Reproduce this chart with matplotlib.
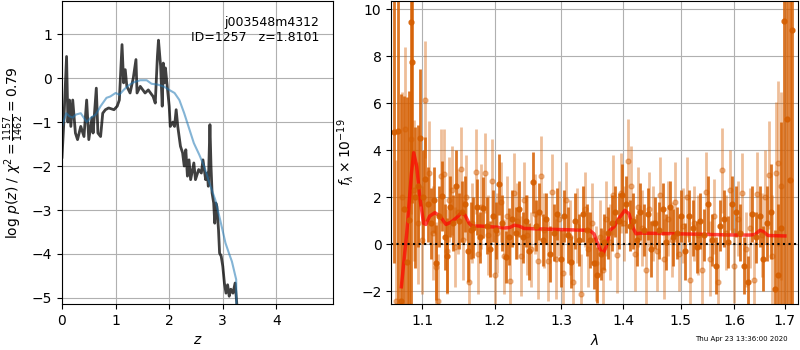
#!/usr/bin/env python3
# p(z) panel + spectrum panel (grism fit summary)
import numpy as np
import matplotlib
matplotlib.use("Agg")
import matplotlib.pyplot as plt
from matplotlib.ticker import FormatStrFormatter, NullLocator, NullFormatter

# --- left panel: log p(z) ---
z_pz = [0.0, 0.03, 0.085, 0.11, 0.14, 0.165, 0.2, 0.25, 0.29, 0.35, 0.41, 0.46, 0.5,
        0.56, 0.58, 0.64, 0.67, 0.72, 0.76, 0.81, 0.87, 0.97, 1.03, 1.07, 1.12, 1.15,
        1.18, 1.21, 1.27, 1.33, 1.38, 1.40, 1.46, 1.55, 1.61, 1.70, 1.74, 1.78, 1.80,
        1.84, 1.87, 1.89, 1.91, 1.93, 1.97, 2.0, 2.02, 2.07, 2.1, 2.13, 2.16, 2.21, 2.25,
        2.28, 2.31, 2.34, 2.37, 2.40, 2.46, 2.49, 2.55, 2.60, 2.63, 2.68, 2.71, 2.73,
        2.76, 2.78, 2.80, 2.83, 2.85, 2.87, 2.89, 2.92, 2.94, 2.97, 3.00, 3.03, 3.06,
        3.09, 3.12, 3.15, 3.19, 3.23, 3.26, 3.28]
lnp_pz = [-1.8, -1.1, 0.49, -1.0, -0.5, -1.1, -0.5, -1.25, -1.4, -1.1, -1.33, -0.5, -1.4,
          -0.9, -1.25, -0.23, -1.25, -1.33, -0.8, -0.72, -0.68, -0.72, -0.64, -0.5, 0.76,
          -0.11, 0.19, -0.19, -0.34, 0.0, 0.42, -0.34, -0.19, -0.34, -0.27, -0.42, -0.57,
          0.49, 0.86, 0.27, -0.64, 0.34, -0.11, 0.23, -0.27, -0.64, -1.1, -1.0, -1.1,
          -0.72, -1.1, -1.55, -1.7, -2.0, -1.63, -2.23, -1.86, -2.31, -1.93, -2.31, -2.08,
          -2.16, -1.86, -2.31, -2.16, -2.46, -1.06, -2.0, -2.61, -2.84, -3.3, -2.84,
          -2.92, -3.45, -3.98, -4.05, -4.28, -4.66, -4.89, -4.7, -4.96, -4.8, -4.89,
          -4.66, -5.11, -5.6]

z_tmpl = [0.0, 0.08, 0.14, 0.2, 0.26, 0.35, 0.46, 0.54, 0.63, 0.72, 0.83, 0.9, 1.0, 1.07,
          1.15, 1.24, 1.33, 1.46, 1.58, 1.67, 1.79, 1.91, 2.0, 2.1, 2.19, 2.28, 2.37,
          2.46, 2.56, 2.65, 2.77, 2.86, 2.95, 3.05, 3.12, 3.17, 3.25, 3.26]
lnp_tmpl = [-1.1, -0.8, -0.87, -0.9, -0.83, -0.8, -1.0, -0.9, -0.83, -0.64, -0.45, -0.42,
            -0.34, -0.38, -0.27, -0.17, -0.1, -0.05, -0.05, -0.13, -0.15, -0.2, -0.27,
            -0.34, -0.5, -0.8, -1.14, -1.48, -1.74, -2.0, -2.46, -2.77, -3.22, -3.75,
            -4.0, -4.17, -4.58, -5.6]

# --- right panel: spectrum ---
wave_a = [1.063, 1.069, 1.072, 1.076, 1.080, 1.083, 1.0857, 1.087, 1.091, 1.094, 1.097,
          1.101, 1.104, 1.108, 1.112, 1.116, 1.119, 1.123, 1.127, 1.131, 1.134, 1.138,
          1.142, 1.146, 1.150, 1.154, 1.158, 1.162, 1.166, 1.170, 1.175, 1.179, 1.184,
          1.189, 1.193, 1.198, 1.202, 1.206, 1.211, 1.216, 1.221, 1.226, 1.231, 1.236,
          1.241, 1.246, 1.251, 1.256, 1.261, 1.266, 1.272, 1.277, 1.283, 1.288, 1.293,
          1.299, 1.304, 1.310, 1.316, 1.322, 1.328, 1.334, 1.340, 1.346, 1.352, 1.357,
          1.363, 1.369, 1.375, 1.381, 1.387, 1.393, 1.399, 1.405, 1.411, 1.417, 1.423,
          1.429, 1.436, 1.442, 1.448, 1.455, 1.461, 1.468, 1.474, 1.481, 1.487, 1.494,
          1.501, 1.508, 1.515, 1.522, 1.529, 1.536, 1.543, 1.551, 1.558, 1.565, 1.573,
          1.580, 1.588, 1.595, 1.603, 1.611, 1.618, 1.626, 1.634, 1.642, 1.650, 1.656,
          1.664, 1.672, 1.679, 1.686, 1.693, 1.699, 1.705, 1.710, 1.715]
flux_a = [4.8, 4.82, -2.4, 1.5, -0.74, 1.03, 9.47, 7.76, 2.0, 2.5, 4.54,
          2.0, 2.78, 1.71, 0.9, 1.9, -0.77, 1.2, 2.05, 0.3, -0.48, 1.6,
          0.9, 2.5, 1.0, 1.4, 1.73, -0.3, 0.6, 0.71, 1.6, 0.3, 1.56,
          0.8, -0.2, 1.2, 0.6, 2.55, 0.9, -0.54, 0.33, 1.1, 0.5, 1.5,
          0.3, 1.0, -0.3, 2.65, 0.8, 1.4, 0.2, 1.1, -0.4, 0.5, 1.3,
          -0.6, 1.2, 0.4, -0.74, 1.0, 0.2, 1.3, 0.6, 0.2, -0.8, -1.3,
          -0.4, 0.1, 0.5, 0.9, 1.4, 1.0, 2.1, 1.7, 0.8, 1.0, 0.2,
          1.4, 0.6, 1.3, -0.2, 0.9, 0.6, 1.5, 0.1, 1.6, 0.3, 0.5,
          1.2, -0.3, 1.2, 0.7, -0.1, 1.0, 0.4, 1.7, 0.2, -0.9, 0.8,
          1.1, 0.1, 1.7, 1.4, 0.5, -0.9, -1.6, 1.3, 0.3, 1.2, -0.6,
          0.9, 1.4, -1.9, -1.3, 0.7, 9.5, 5.32, 2.74, 9.12]
err_a = [5.6, 8.0, 8.8, 4.8, 7.0, 5.5, 12.0, 6.0, 3.0, 2.6, 2.9,
         2.0, 1.8, 1.6, 1.5, 1.4, 1.6, 1.3, 1.5, 1.4, 1.6, 1.3,
         1.2, 1.5, 1.2, 1.3, 1.2, 1.3, 1.2, 1.3, 1.2, 1.1, 1.3,
         1.2, 1.2, 1.1, 1.2, 1.3, 1.2, 1.1, 1.2, 1.2, 1.1, 1.2,
         1.1, 1.1, 1.2, 1.3, 1.1, 1.2, 1.1, 1.1, 1.2, 1.2, 1.1,
         1.2, 1.1, 1.2, 1.1, 1.2, 1.1, 1.2, 1.1, 1.2, 1.1, 1.2,
         1.1, 1.2, 1.1, 1.2, 1.1, 1.2, 1.3, 1.2, 1.1, 1.2, 1.1,
         1.2, 1.1, 1.1, 1.2, 1.1, 1.2, 1.1, 1.2, 1.1, 1.2, 1.1,
         1.1, 1.2, 1.1, 1.2, 1.1, 1.2, 1.1, 1.2, 1.1, 1.2, 1.1,
         1.2, 1.1, 1.2, 1.1, 1.2, 1.2, 1.1, 1.2, 1.1, 1.3, 1.4,
         1.6, 2.0, 2.5, 3.0, 4.5, 14.0, 10.0, 9.0, 14.0]

wave_b = [1.066, 1.074, 1.078, 1.085, 1.089, 1.095, 1.100, 1.104, 1.109, 1.114, 1.118,
          1.121, 1.125, 1.129, 1.133, 1.136, 1.140, 1.144, 1.148, 1.152, 1.156, 1.160,
          1.164, 1.168, 1.173, 1.177, 1.181, 1.186, 1.191, 1.196, 1.200, 1.204, 1.209,
          1.213, 1.218, 1.223, 1.228, 1.233, 1.238, 1.243, 1.248, 1.253, 1.259, 1.264,
          1.269, 1.274, 1.280, 1.285, 1.291, 1.296, 1.302, 1.307, 1.313, 1.319, 1.325,
          1.331, 1.337, 1.343, 1.349, 1.355, 1.361, 1.366, 1.372, 1.378, 1.384, 1.390,
          1.396, 1.402, 1.408, 1.414, 1.420, 1.426, 1.432, 1.439, 1.445, 1.451, 1.458,
          1.464, 1.471, 1.477, 1.484, 1.490, 1.497, 1.504, 1.511, 1.518, 1.525, 1.532,
          1.539, 1.547, 1.554, 1.561, 1.569, 1.576, 1.584, 1.591, 1.599, 1.607, 1.614,
          1.622, 1.630, 1.638, 1.645, 1.653, 1.660, 1.667, 1.674, 1.681, 1.687, 1.692]
flux_b = [-2.4, 2.0, 4.9, 4.5, 2.3, 0.9, 0.2, 6.16, 3.05, 0.5, -0.95,
          -2.4, 2.9, 3.0, -0.3, 1.9, 2.3, -0.1, 1.4, 3.2, 0.2, 2.0,
          -1.6, 0.9, 3.1, -0.4, 1.6, 3.05, 0.4, 2.7, -1.3, 0.5, 1.8,
          -0.5, 1.2, -1.55, 2.2, 1.0, -0.5, 1.9, 0.4, -0.2, 1.3, -0.7,
          2.9, 0.6, -0.7, 2.25, -0.6, 1.1, -1.2, 1.9, 0.3, -1.6, 0.8,
          -2.1, 1.5, -0.2, 0.9, -0.8, 0.3, -1.1, 1.1, 0.1, 2.1, -0.45,
          2.2, 0.9, 3.55, 2.5, -0.4, 1.6, 0.7, -1.1, 1.5, 0.9, -0.3,
          2.1, -0.6, 1.1, 0.2, 1.8, -0.4, 0.8, 2.0, -1.5, 0.9, 0.4,
          -1.1, 2.25, -0.6, 1.2, -1.6, 3.15, 0.5, 2.3, -0.9, 1.1, 2.2,
          -0.2, 0.7, -1.5, 2.15, 0.4, 2.0, 2.95, -0.5, 3.05, 3.45, 2.5]
err_b = [6.0, 4.5, 3.5, 3.2, 3.0, 2.6, 2.3, 2.5, 2.2, 2.0, 1.9,
         2.0, 2.0, 1.9, 1.8, 1.8, 1.9, 1.7, 1.8, 1.8, 1.7, 1.8,
         1.7, 1.7, 1.8, 1.7, 1.8, 1.7, 1.7, 1.8, 1.7, 1.7, 1.7,
         1.6, 1.7, 1.7, 1.7, 1.6, 1.7, 1.6, 1.7, 1.6, 1.7, 1.6,
         1.7, 1.6, 1.7, 1.6, 1.7, 1.6, 1.7, 1.6, 1.6, 1.7, 1.6,
         1.7, 1.6, 1.6, 1.7, 1.6, 1.6, 1.7, 1.6, 1.6, 1.7, 1.6,
         1.7, 1.6, 1.8, 1.7, 1.6, 1.7, 1.6, 1.7, 1.6, 1.6, 1.7,
         1.6, 1.7, 1.6, 1.6, 1.7, 1.6, 1.6, 1.7, 1.6, 1.6, 1.7,
         1.6, 1.7, 1.6, 1.6, 1.7, 1.8, 1.6, 1.7, 1.6, 1.6, 1.7,
         1.6, 1.7, 1.6, 1.8, 1.8, 2.0, 2.3, 2.6, 3.0, 3.5, 4.0]

wave_model = [1.073, 1.080, 1.086, 1.089, 1.093, 1.097, 1.102, 1.105, 1.110, 1.117, 1.124,
              1.132, 1.139, 1.147, 1.153, 1.158, 1.164, 1.168, 1.180, 1.200, 1.215, 1.222,
              1.229, 1.236, 1.243, 1.300, 1.345, 1.352, 1.360, 1.366, 1.372, 1.378, 1.385,
              1.393, 1.403, 1.410, 1.416, 1.422, 1.430, 1.500, 1.600, 1.630, 1.640, 1.650,
              1.656, 1.666, 1.700]
flux_model = [-1.8, 0.5, 3.0, 3.9, 3.3, 2.0, 0.9, 0.85, 1.2, 1.35, 1.2,
              0.85, 0.95, 1.15, 1.35, 1.25, 0.9, 0.78, 0.78, 0.74, 0.7, 0.72,
              0.82, 0.78, 0.68, 0.63, 0.6, 0.45, -0.1, -0.42, -0.1, 0.6, 0.75,
              1.1, 1.45, 1.3, 0.75, 0.45, 0.48, 0.45, 0.4, 0.4, 0.42, 0.6,
              0.55, 0.38, 0.36]

g141 = (0.8353, 0.3686, 0.0)

fig = plt.figure(figsize=(8, 3.5), dpi=100)
ax1 = fig.add_axes([0.0775, 0.131, 0.339, 0.866])
ax2 = fig.add_axes([0.489, 0.131, 0.5085, 0.866])

# p(z)
ax1.plot(z_pz, lnp_pz, color="k", alpha=0.75, lw=2)
ax1.plot(z_tmpl, lnp_tmpl, color="tab:blue", alpha=0.55, lw=1.5)
ax1.set_xlim(0, 5.06)
ax1.set_ylim(-5.14, 1.75)
ax1.set_xticks([0, 1, 2, 3, 4])
ax1.set_yticks([-5, -4, -3, -2, -1, 0, 1])
ax1.grid(True)
ax1.set_xlabel(r"$z$")
ax1.set_ylabel(r"$\log\,p(z)$ / $\chi^2=\frac{1157}{1462}=0.79$")
ax1.text(0.95, 0.95, "j003548m4312\nID=1257   z=1.8101", ha="right", va="top",
         fontsize=9, transform=ax1.transAxes)

# spectrum
ax2.errorbar(wave_a, flux_a, yerr=err_a, color=g141, alpha=0.85, marker="o",
             ms=3.5, ls="none", elinewidth=2)
ax2.errorbar(wave_b, flux_b, yerr=err_b, color=g141, alpha=0.4, marker="o",
             ms=3.5, ls="none", elinewidth=2)
ax2.plot(wave_model, flux_model, color="r", alpha=0.7, lw=2.5)
ax2.axhline(0, color="k", ls=":", lw=1.5)
ax2.set_xscale("log")
ax2.set_xlim(1.06, 1.727)
ax2.set_ylim(-2.54, 10.35)
ax2.set_xticks([1.1, 1.2, 1.3, 1.4, 1.5, 1.6, 1.7])
ax2.xaxis.set_major_formatter(FormatStrFormatter("%.1f"))
ax2.xaxis.set_minor_locator(NullLocator())
ax2.xaxis.set_minor_formatter(NullFormatter())
ax2.set_yticks([-2, 0, 2, 4, 6, 8, 10])
ax2.grid(True)
ax2.set_xlabel(r"$\lambda$")
ax2.set_ylabel(r"$f_\lambda\times10^{-19}$")

fig.text(0.984, 0.022, "Thu Apr 23 13:36:00 2020", ha="right", va="bottom", fontsize=5)

fig.savefig("out.png", dpi=100)
